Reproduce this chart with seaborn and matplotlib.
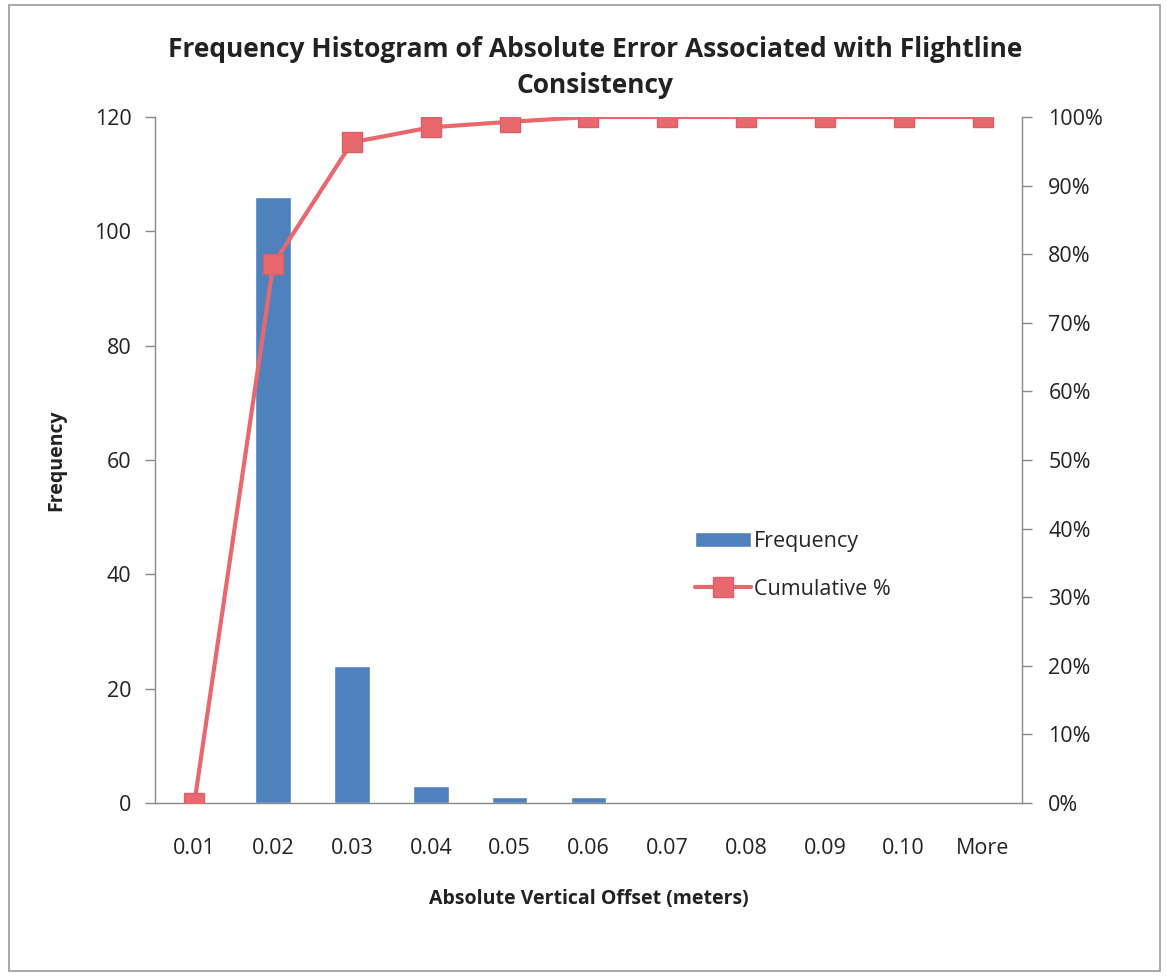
import numpy as np
import pandas as pd
import matplotlib
matplotlib.use("Agg")
import matplotlib.pyplot as plt
from matplotlib.ticker import PercentFormatter, FixedLocator
from matplotlib.patches import Rectangle
import seaborn as sns

# Data
bins = ["0.01", "0.02", "0.03", "0.04", "0.05", "0.06", "0.07", "0.08", "0.09", "0.10", "More"]
frequency = [0, 106, 24, 3, 1, 1, 0, 0, 0, 0, 0]
cumulative = [0.0, 0.785, 0.963, 0.985, 0.993, 1.0, 1.0, 1.0, 1.0, 1.0, 1.0]

bar_color = "#4F81BD"
line_color = "#E8686E"

sns.set_style("white")
plt.rcParams['font.family'] = ['Open Sans', 'DejaVu Sans']

df = pd.DataFrame({"bin": bins, "Frequency": frequency, "pos": np.arange(len(bins)),
                   "Cumulative": cumulative})

fig = plt.figure(figsize=(11.67, 9.76), dpi=100)
ax = fig.add_axes([0.1328, 0.1773, 0.7429, 0.7028])

sns.barplot(data=df, x="pos", y="Frequency", color=bar_color, width=0.45,
            saturation=1, ax=ax, native_scale=True, label="Frequency")
if ax.get_legend() is not None:
    ax.get_legend().remove()
ax.set_xlim(-0.5, len(bins) - 0.5)
ax.set_ylim(0, 120)
ax.set_yticks(range(0, 121, 20))

ax2 = ax.twinx()
sns.lineplot(data=df, x="pos", y="Cumulative", color=line_color, linewidth=3,
             marker="s", markersize=14, markeredgecolor="#DC5F66", markeredgewidth=1,
             ax=ax2, label="Cumulative %", legend=False)
ax2.set_ylim(0, 1)
ax2.set_yticks(np.arange(0, 1.01, 0.1))
ax2.yaxis.set_major_formatter(PercentFormatter(1.0, decimals=0))
ax2.set_ylabel("")
ax2.set_xlim(-0.5, len(bins) - 0.5)

# category labels at centres, tick marks at boundaries (Excel style)
ax.xaxis.set_major_locator(FixedLocator(np.arange(len(bins))))
ax.set_xticklabels(bins)
ax.xaxis.set_minor_locator(FixedLocator(np.arange(-0.5, len(bins), 1.0)))
ax.tick_params(axis="x", which="major", length=0, pad=25, labelsize=15.5, colors="#222222")
ax.tick_params(axis="x", which="minor", length=7, width=1, color="#888888", direction="out")
ax.tick_params(axis="y", length=7, width=1, color="#888888", direction="out", labelsize=15.5,
               labelcolor="#222222", pad=10)
ax2.tick_params(axis="y", length=7, width=1, color="#888888", direction="out", labelsize=15.5,
                labelcolor="#222222", pad=12)

for a in (ax, ax2):
    a.spines["top"].set_visible(False)
    for s in ("left", "right", "bottom"):
        a.spines[s].set_color("#888888")
        a.spines[s].set_linewidth(1)
ax.spines["right"].set_visible(False)
ax2.spines["left"].set_visible(False)
ax2.spines["bottom"].set_visible(False)

ax.set_xlabel("Absolute Vertical Offset (meters)", fontsize=14, fontweight="bold",
              labelpad=22, color="#222222")
ax.set_ylabel("Frequency", fontsize=14, fontweight="bold", labelpad=20, color="#222222")

fig.text(0.51, 0.931, "Frequency Histogram of Absolute Error Associated with Flightline\nConsistency",
         ha="center", va="center", fontsize=19, fontweight="bold", color="#222222",
         linespacing=1.45)

h1, l1 = ax.get_legend_handles_labels()
h2, l2 = ax2.get_legend_handles_labels()
ax2.legend(h1 + h2, l1 + l2, loc="upper left", bbox_to_anchor=(0.60, 0.425),
           frameon=False, fontsize=15.5, handlelength=2.6, handletextpad=0.15,
           labelspacing=1.25)

fig.patches.append(Rectangle((0.008, 0.005), 0.986, 0.99, transform=fig.transFigure,
                             fill=False, edgecolor="#999999", linewidth=1.2))

fig.savefig("out.png", dpi=100)
